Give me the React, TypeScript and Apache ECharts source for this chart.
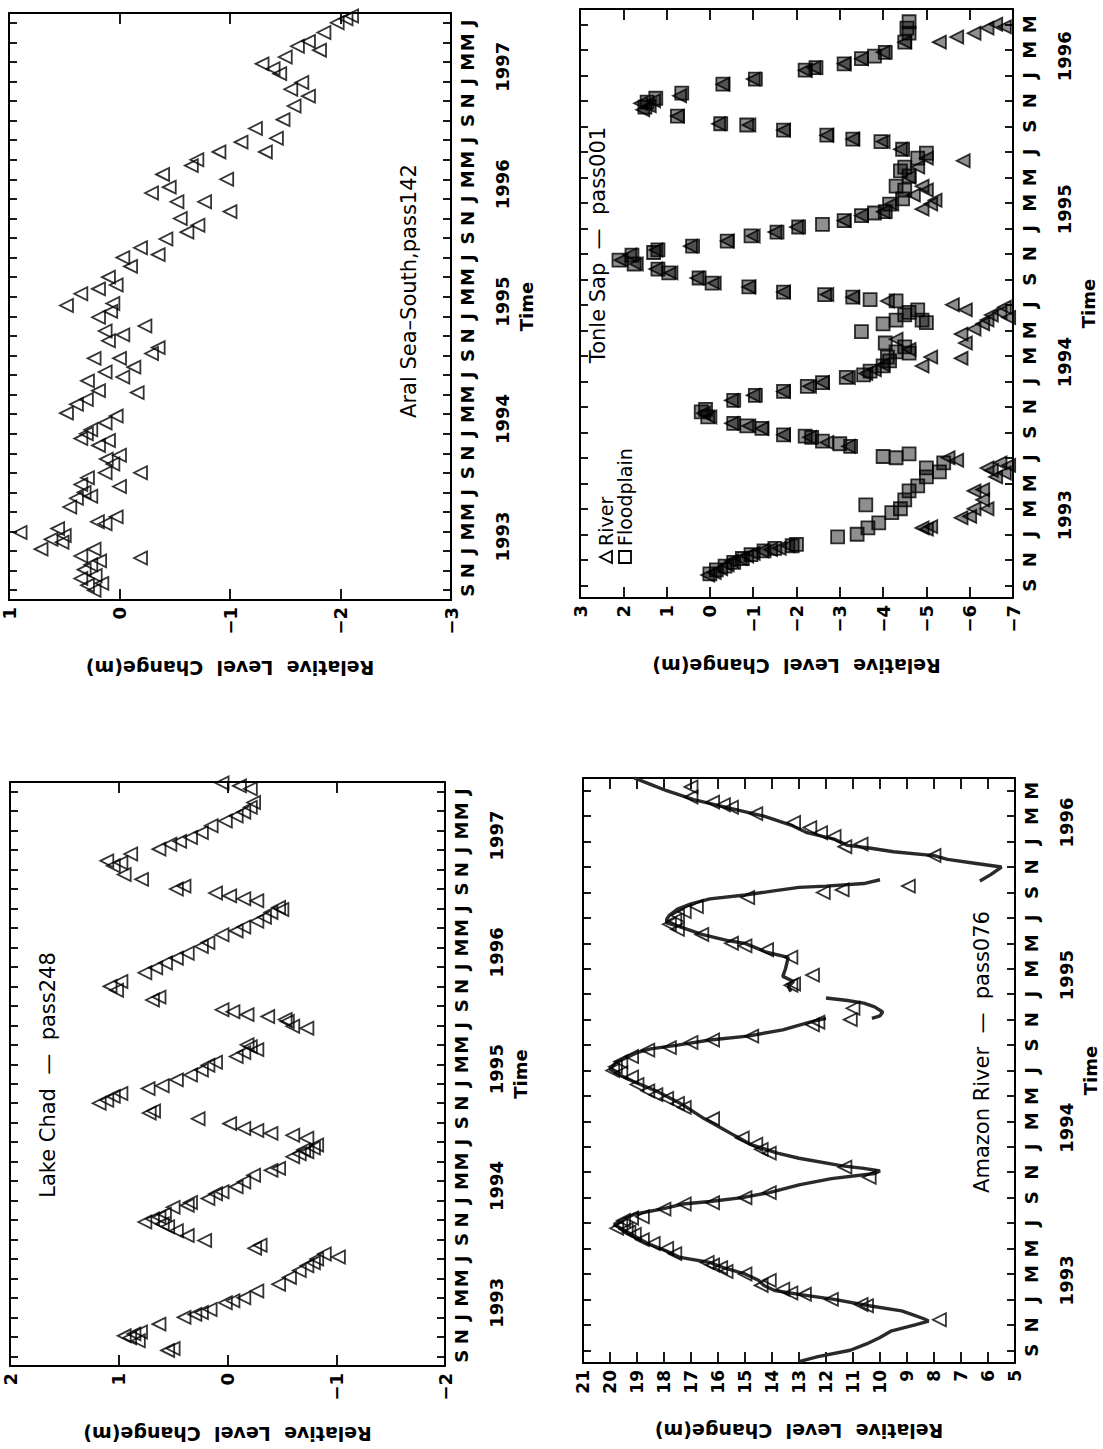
import { useEffect, useRef } from "react";
import * as echarts from "echarts";

const FONT = "DejaVu Sans";
const MONTH_LETTERS = ["J", "M", "M", "J", "S", "N"];
const BASE_YEAR = 1993;

const yearsTo1997 = [1993, 1994, 1995, 1996, 1997];
const yearsTo1996 = [1993, 1994, 1995, 1996];

// [months since Jan 1993, relative level change (m)]
const aralRiver = [
  [-4.0, 0.23], [-3.5, 0.29], [-3.3, 0.16], [-2.8, 0.35], [-2.5, 0.22], [-1.9, 0.32], [-1.4, 0.26], [-1.0, 0.18],
  [-0.7, -0.19], [-0.5, 0.35], [0.2, 0.23], [0.2, 0.71], [0.9, 0.52], [1.2, 0.62], [1.9, 0.9], [2.3, 0.56],
  [1.6, 0.5], [2.8, 0.13], [3.5, 0.03], [3.0, 0.2], [4.5, 0.45], [5.4, 0.39], [5.6, 0.26], [6.0, 0.32],
  [6.6, 0.0], [6.8, 0.35], [7.5, 0.29], [8.0, -0.19], [8.0, 0.13], [8.9, 0.06], [9.4, 0.12], [9.8, 0.0],
  [10.8, 0.19], [11.3, 0.1], [11.5, 0.35], [12.0, 0.3], [12.4, 0.26], [13.1, 0.13], [13.8, 0.03], [14.1, 0.48],
  [15.0, 0.39], [15.5, 0.3], [16.4, 0.19], [16.2, -0.16], [17.4, 0.29], [18.3, 0.13], [17.8, -0.03], [18.8, -0.13],
  [19.7, 0.23], [19.7, 0.0], [20.2, -0.29], [20.8, -0.35], [21.5, 0.1], [22.1, -0.03], [22.5, 0.13], [23.0, -0.23],
  [23.9, 0.19], [24.5, 0.08], [25.3, 0.06], [25.1, 0.48], [26.3, 0.35], [26.8, 0.19], [27.2, 0.03], [28.0, 0.1],
  [29.1, -0.1], [30.0, -0.03], [30.3, -0.35], [31.0, -0.19], [31.9, -0.42], [32.6, -0.61], [33.3, -0.71], [34.0, -0.55],
  [34.7, -1.0], [35.7, -0.52], [35.7, -0.77], [36.6, -0.29], [37.2, -0.45], [38.0, -0.97], [38.5, -0.39], [39.4, -0.65],
  [40.0, -0.7], [40.8, -0.9], [40.8, -1.32], [41.8, -1.1], [42.2, -1.42], [43.2, -1.23], [44.1, -1.48], [45.5, -1.58],
  [46.5, -1.71], [47.2, -1.55], [47.9, -1.65], [48.8, -1.45], [49.3, -1.39], [49.8, -1.29], [50.5, -1.5], [51.2, -1.81],
  [51.6, -1.61], [52.1, -1.71], [53.0, -1.85], [54.0, -1.97], [54.4, -2.05], [54.7, -2.1],
];

const tonleRiver = [
  [-3.2, 0.05], [-3.0, -0.1], [-2.7, -0.25], [-2.4, -0.4], [-2.1, -0.5], [-1.9, -0.7], [-1.7, -0.85], [-1.5, -1.0],
  [-1.3, -1.2], [-1.2, -1.4], [-1.1, -1.6], [-0.9, -1.8],
  [0.5, -4.9], [0.6, -5.1], [0.4, -5.0], [1.3, -5.8], [1.4, -6.0], [2.0, -6.1], [2.0, -6.4], [2.7, -6.3], [3.4, -6.1],
  [3.5, -6.3], [4.5, -6.6], [5.0, -6.5], [5.2, -6.4], [5.6, -6.7], [5.4, -6.9], [6.0, -5.5], [5.8, -5.7], [4.8, -6.8],
  [6.9, -3.2], [7.2, -2.7], [7.6, -2.3], [7.8, -1.7], [8.3, -1.2], [8.5, -0.9], [8.7, -0.5], [9.2, 0.0], [9.5, 0.15],
  [10.5, -0.5], [10.9, -1.0], [11.2, -1.7], [11.6, -2.3], [11.9, -2.6], [12.3, -3.2], [12.6, -3.6], [12.9, -3.8], [13.3, -4.0],
  [13.2, -4.9], [13.9, -5.1], [13.8, -5.8], [15.0, -5.9], [15.7, -5.8], [16.1, -6.1], [16.5, -6.3], [16.8, -6.4],
  [17.2, -6.5], [17.4, -6.7], [17.8, -6.8], [17.0, -6.9], [17.6, -5.9], [18.0, -5.6], [14.5, -4.6], [15.3, -4.3],
  [18.3, -4.1], [18.6, -3.3], [18.8, -2.7], [19.0, -1.7], [19.4, -0.9], [19.7, -0.1], [20.1, 0.3], [20.5, 0.9],
  [20.8, 1.25], [21.2, 1.7], [21.5, 2.05], [21.9, 1.85],
  [22.3, 1.25], [22.6, 0.45], [23.0, -0.4], [23.4, -1.0], [23.7, -1.5], [24.1, -2.0], [24.6, -3.1], [25.0, -3.5],
  [25.3, -4.0], [25.9, -4.2],
  [25.5, -4.9], [25.9, -5.1], [26.6, -4.7], [27.3, -4.9], [28.0, -4.6], [28.8, -4.8], [29.5, -5.0], [29.3, -5.85],
  [26.2, -5.2], [27.0, -5.0],
  [30.2, -4.4], [30.8, -4.0], [31.0, -3.3], [31.3, -2.7], [31.7, -1.7], [32.1, -0.9], [32.2, -0.2], [32.8, 0.75],
  [33.3, 1.55], [33.6, 1.4], [34.0, 1.3], [34.4, 0.7], [33.8, 1.6],
  [35.3, -0.3], [35.7, -1.0], [36.4, -2.2], [36.6, -2.4], [36.9, -3.1], [37.3, -3.5], [37.8, -4.0], [38.6, -4.5],
  [38.6, -5.3], [39.0, -5.7], [39.3, -6.1], [39.7, -6.4], [40.0, -6.6], [39.8, -6.8],
];

const tonleFloodplain = [
  [-3.1, 0.0], [-2.8, -0.15], [-2.5, -0.35], [-2.2, -0.55], [-1.9, -0.75], [-1.6, -0.95], [-1.3, -1.25], [-1.1, -1.5],
  [-0.9, -1.9], [-0.8, -2.0],
  [-0.2, -2.95], [0.0, -3.4], [0.5, -3.65], [0.9, -3.9], [2.3, -3.6], [2.0, -4.4], [1.7, -4.2], [2.7, -4.5], [3.4, -4.6],
  [3.8, -4.8], [4.5, -5.0], [5.2, -5.0], [4.9, -5.3], [5.6, -5.4], [6.0, -4.3], [6.3, -4.6], [6.1, -4.0],
  [6.9, -3.25], [7.1, -3.0], [7.3, -2.6], [7.6, -2.35], [7.7, -2.2], [7.8, -1.7], [8.3, -1.2], [8.5, -0.85], [8.7, -0.55],
  [9.2, 0.05], [9.6, 0.2], [9.8, 0.1],
  [10.5, -0.55], [10.9, -1.05], [11.2, -1.7], [11.6, -2.25], [11.9, -2.6], [12.3, -3.15], [12.5, -3.55], [12.8, -3.7],
  [13.2, -4.0], [13.6, -4.15],
  [13.9, -4.1], [14.3, -4.3], [14.7, -4.5], [15.0, -4.05], [14.2, -4.6], [15.9, -3.5], [16.5, -4.0], [16.8, -4.3],
  [17.2, -4.5], [17.4, -4.6], [16.8, -4.9], [16.6, -5.0], [17.6, -4.8], [18.3, -4.3],
  [18.4, -3.7], [18.6, -3.3], [18.8, -2.65], [19.0, -1.7], [19.4, -0.9], [19.7, -0.05], [20.1, 0.25], [20.5, 0.95],
  [20.8, 1.2], [21.2, 1.75], [21.5, 2.1], [21.9, 1.8], [22.1, 1.3],
  [22.3, 1.2], [22.6, 0.4], [23.0, -0.4], [23.4, -0.95], [23.7, -1.55], [24.1, -2.05], [24.3, -2.6], [24.6, -3.1],
  [25.0, -3.5], [25.2, -3.8], [25.3, -4.05], [25.9, -4.15], [26.3, -4.45],
  [27.3, -4.3], [28.1, -4.6], [28.8, -4.5], [29.5, -4.8], [29.9, -5.0], [27.0, -4.5], [28.5, -4.4],
  [30.2, -4.45], [30.8, -3.95], [31.0, -3.3], [31.3, -2.7], [31.7, -1.7], [32.1, -0.85], [32.2, -0.25], [32.8, 0.75],
  [33.5, 1.5], [34.2, 1.25], [34.6, 0.65], [33.9, 1.45],
  [35.3, -0.3], [35.7, -1.05], [36.4, -2.2], [36.6, -2.45], [36.9, -3.1], [37.3, -3.5], [37.5, -3.8], [37.8, -4.05],
  [38.6, -4.5], [39.3, -4.6], [39.7, -4.55], [40.2, -4.6],
];

const chadRiver = [
  [-3.4, 0.55], [-3.2, 0.5], [-2.4, 0.82], [-2.1, 0.9], [-1.9, 0.95], [-1.7, 0.86], [-1.5, 0.8], [-0.7, 0.63],
  [0.0, 0.4], [0.3, 0.3], [0.5, 0.24], [0.8, 0.16], [1.5, 0.02], [1.7, -0.05], [2.0, -0.15], [2.7, -0.27],
  [3.4, -0.47], [4.1, -0.57], [4.8, -0.66], [5.3, -0.73], [5.6, -0.79], [6.2, -1.02], [6.5, -0.89], [6.0, -0.82],
  [7.1, -0.25], [7.4, -0.3], [7.9, 0.21], [8.4, 0.37], [8.9, 0.47], [9.3, 0.55], [9.8, 0.76], [10.1, 0.69],
  [10.3, 0.63], [10.6, 0.58], [9.6, 0.6],
  [11.3, 0.5], [11.5, 0.37], [11.8, 0.34], [12.2, 0.18], [12.7, 0.11], [12.9, 0.05], [13.4, -0.08], [13.9, -0.15],
  [14.6, -0.24], [15.1, -0.4], [15.3, -0.47], [16.5, -0.6], [16.8, -0.66], [17.0, -0.73], [17.4, -0.79], [17.7, -0.82],
  [17.2, -0.7],
  [18.4, -0.73], [18.7, -0.6], [18.9, -0.4], [19.2, -0.27], [19.4, -0.15], [19.9, -0.02], [20.4, 0.27],
  [21.0, 0.72], [21.2, 0.68], [22.0, 1.18], [22.3, 1.11], [22.7, 1.05], [23.0, 0.98], [23.5, 0.73], [23.8, 0.6],
  [24.4, 0.47], [24.9, 0.34], [25.4, 0.24], [25.9, 0.18], [26.2, 0.11], [26.8, -0.08], [27.2, -0.15], [27.8, -0.21],
  [27.5, -0.27], [28.0, -0.18],
  [29.7, -0.73], [29.9, -0.6], [30.4, -0.55], [30.6, -0.53], [30.9, -0.37], [31.1, -0.18], [31.4, -0.05], [31.6, 0.05],
  [32.6, 0.69], [32.9, 0.63], [34.0, 1.08], [33.6, 1.02], [34.5, 0.98],
  [35.4, 0.76], [35.9, 0.66], [36.4, 0.57], [36.9, 0.47], [37.4, 0.37], [38.1, 0.24], [38.5, 0.18], [39.3, 0.05],
  [39.7, -0.08], [40.1, -0.15], [40.7, -0.27], [41.1, -0.34], [41.6, -0.4], [42.1, -0.47], [41.9, -0.5],
  [42.8, -0.27], [43.0, -0.15], [43.3, -0.02], [43.6, 0.11], [44.0, 0.47], [44.3, 0.4], [45.0, 0.79], [45.5, 0.95],
  [46.4, 1.05], [46.9, 1.11], [46.7, 0.98], [47.6, 0.89],
  [48.1, 0.63], [48.6, 0.53], [48.9, 0.44], [49.3, 0.34], [49.8, 0.24], [50.5, 0.15], [51.0, 0.02], [51.5, -0.08],
  [51.9, -0.15], [52.4, -0.21], [52.9, -0.24], [54.3, -0.21], [54.6, -0.11], [54.9, 0.05],
];

const amazonRiver = [
  [-1.6, 7.8], [-0.5, 10.5], [-0.4, 10.7], [0.0, 11.8], [0.4, 12.8], [0.5, 13.3], [0.8, 13.6], [1.1, 14.4], [1.5, 14.1],
  [2.0, 15.0], [2.2, 15.7], [2.5, 15.9], [2.7, 16.2], [2.9, 16.4], [3.6, 17.6], [4.0, 17.9], [4.4, 18.4], [4.7, 18.8],
  [5.1, 19.1], [5.3, 19.3], [5.5, 19.4], [5.6, 19.75], [5.8, 19.6], [6.2, 19.5], [6.4, 19.2], [6.5, 18.8], [7.1, 18.0],
  [7.5, 17.25], [7.6, 16.2], [8.0, 15.0], [8.4, 14.1], [9.6, 10.4], [10.4, 11.3],
  [11.5, 14.1], [11.8, 14.4], [12.2, 14.6], [12.7, 15.1], [14.2, 16.2], [15.1, 17.25], [15.4, 17.5], [15.8, 17.9],
  [16.1, 18.3], [16.4, 18.6], [16.9, 19.0], [17.5, 19.2], [17.8, 19.6], [18.0, 19.9], [18.3, 19.8], [18.7, 19.6],
  [19.1, 19.2], [19.6, 18.6], [19.8, 17.8], [20.2, 17.0], [20.4, 16.2], [20.7, 14.75], [21.6, 12.5], [21.8, 12.3],
  [22.0, 11.1], [22.9, 11.0],
  [24.7, 13.3], [24.8, 13.2], [25.5, 12.5], [26.9, 13.3], [27.5, 14.2], [27.8, 15.0], [28.0, 15.5], [28.7, 16.6],
  [29.1, 17.5], [29.5, 17.8], [29.8, 17.6], [30.2, 17.5], [30.5, 17.25], [30.9, 16.8], [31.6, 14.9], [32.0, 12.1],
  [32.2, 11.4], [32.5, 8.95],
  [34.9, 8.0], [35.6, 11.3], [35.8, 10.7], [36.4, 11.7], [36.7, 12.2], [37.1, 12.6], [37.5, 13.2], [38.2, 14.6],
  [38.7, 15.5], [38.9, 15.8], [39.1, 16.2], [39.5, 17.0], [40.3, 17.0],
];

const amazonGaugeSeg1 = [
  [-4.9, 13.0], [-4.5, 12.3], [-4.0, 11.1], [-3.5, 10.5], [-3.0, 10.0], [-2.5, 9.6], [-2.0, 8.7], [-1.7, 8.2],
  [-1.5, 8.4], [-1.2, 8.8], [-0.9, 9.2], [-0.5, 10.4], [0.0, 11.7], [0.4, 13.0], [0.7, 13.9], [1.1, 14.3], [1.5, 14.5],
  [2.0, 15.0], [2.5, 15.8], [2.9, 16.3], [3.3, 17.4], [3.8, 17.9], [4.4, 18.6], [5.1, 19.2], [5.6, 19.6], [5.9, 19.85],
  [6.2, 19.6], [6.7, 19.1], [7.1, 18.1], [7.5, 17.3], [7.7, 16.3], [8.0, 15.1], [8.4, 14.1], [9.0, 13.0], [9.5, 11.8],
  [9.9, 10.2], [10.1, 10.0], [10.3, 10.6], [10.5, 11.4], [11.1, 13.0], [11.5, 13.8], [12.2, 14.8], [12.9, 15.4],
  [13.5, 15.9], [14.2, 16.5], [15.3, 17.3], [16.4, 18.3], [17.1, 19.1], [17.6, 19.6], [18.1, 20.0], [18.6, 19.8],
  [19.0, 19.4], [19.4, 19.0], [19.7, 18.5], [20.0, 17.5], [20.4, 16.3], [20.7, 14.9], [21.2, 13.6], [21.8, 12.6],
  [22.1, 12.0],
];
const amazonGaugeSeg2 = [
  [23.7, 12.0], [23.5, 11.2], [23.3, 10.6], [23.0, 10.2], [22.6, 9.9], [22.3, 10.0], [22.1, 10.3],
];
const amazonGaugeSeg3 = [
  [24.2, 13.3], [24.6, 13.4], [25.0, 13.2], [25.4, 13.6], [26.0, 13.5], [26.9, 13.4], [27.3, 14.2], [28.0, 15.0],
  [28.2, 15.6], [28.7, 16.6], [29.3, 17.4], [29.6, 17.9], [29.9, 17.9], [30.2, 17.8], [30.7, 17.5], [31.1, 17.0],
  [31.5, 16.3], [31.8, 15.0], [32.1, 14.0], [32.4, 13.0], [32.5, 12.0], [32.7, 10.6], [33.0, 10.0],
];
const amazonGaugeSeg4 = [
  [32.9, 6.3], [33.4, 5.9], [34.0, 5.5], [34.3, 6.5], [34.6, 7.5], [34.9, 8.0], [35.2, 9.5], [35.5, 10.4], [35.7, 11.2],
  [36.2, 11.7], [36.7, 12.7], [37.3, 13.3], [38.0, 14.3], [38.5, 15.3], [39.3, 16.9], [40.0, 17.9], [40.5, 18.5],
  [41.0, 19.1],
];

const panels = [
  {
    rect: { left: 7, top: 13, width: 444, height: 587 },
    vmin: -3, vmax: 1, tmin: -5, tmax: 55, years: yearsTo1997, labelSize: 18,
    title: "Aral Sea\u2013South,pass142", titleAt: [409, 291],
  },
  {
    rect: { left: 580, top: 9, width: 433, height: 589 },
    vmin: -7, vmax: 3, tmin: -5, tmax: 41.2, years: yearsTo1996, labelSize: 18,
    title: "Tonle Sap  \u2014  pass001", titleAt: [598, 245],
  },
  {
    rect: { left: 10, top: 782, width: 435, height: 584 },
    vmin: -2, vmax: 2, tmin: -5, tmax: 55, years: yearsTo1997, labelSize: 18,
    title: "Lake Chad  \u2014  pass248", titleAt: [48, 1075],
  },
  {
    rect: { left: 583, top: 778, width: 432, height: 585 },
    vmin: 5, vmax: 21, tmin: -5, tmax: 41, years: yearsTo1996, labelSize: 17,
    title: "Amazon River  \u2014  pass076", titleAt: [982, 1052],
  },
];

const swap = (arr: number[][]) => arr.map(([t, v]) => [v, t]);

function monthTicks(tmin: number, tmax: number) {
  const out: number[] = [];
  for (let t = Math.ceil(tmin / 2) * 2; t <= tmax; t += 2) out.push(t);
  return out;
}

function buildOption() {
  const grid: any[] = [];
  const xAxis: any[] = [];
  const yAxis: any[] = [];
  const line = { show: true, onZero: false, lineStyle: { color: "#000", width: 2 } };
  const lbl = { color: "#000", fontFamily: FONT, fontWeight: "bold" };
  const tickStyle = { color: "#000", width: 1.8 };
  const minusFmt = (v: number) => String(v).replace("-", "\u2212");

  panels.forEach((p, i) => {
    grid.push({ ...p.rect, show: false });
    const ticks = monthTicks(p.tmin, p.tmax);
    const yearVals = p.years.map((y) => (y - BASE_YEAR) * 12 + 1.5);
    xAxis.push({
      gridIndex: i, type: "value", position: "bottom", min: p.vmin, max: p.vmax, interval: 1, inverse: true,
      axisLine: line,
      axisTick: { inside: true, length: 11, lineStyle: tickStyle },
      axisLabel: { ...lbl, rotate: 90, fontSize: p.labelSize, margin: 7, formatter: minusFmt },
      splitLine: { show: false },
      name: "Relative  Level  Change(m)", nameLocation: "middle", nameRotate: 180, nameGap: 58,
      nameTextStyle: { ...lbl, fontSize: 19 },
    });
    xAxis.push({
      gridIndex: i, type: "value", position: "top", min: p.vmin, max: p.vmax, interval: 1, inverse: true,
      axisLine: line,
      axisTick: { inside: true, length: 11, lineStyle: tickStyle },
      axisLabel: { show: false }, splitLine: { show: false },
    });
    const monthFmt = (val: number) => MONTH_LETTERS[(((Math.round(val) % 12) + 12) % 12) / 2];
    yAxis.push({
      gridIndex: i, type: "value", position: "right", min: p.tmin, max: p.tmax,
      axisLine: line,
      axisTick: { inside: true, length: 8, customValues: ticks, lineStyle: tickStyle },
      axisLabel: { ...lbl, customValues: ticks, rotate: 90, fontSize: 18, margin: 7, formatter: monthFmt },
      splitLine: { show: false },
    });
    yAxis.push({
      gridIndex: i, type: "value", position: "left", min: p.tmin, max: p.tmax,
      axisLine: line,
      axisTick: { inside: true, length: 8, customValues: ticks, lineStyle: tickStyle },
      axisLabel: { show: false }, splitLine: { show: false },
    });
    yAxis.push({
      gridIndex: i, type: "value", position: "right", offset: 42, min: p.tmin, max: p.tmax,
      axisLine: { show: false, onZero: false }, axisTick: { show: false },
      axisLabel: {
        ...lbl, customValues: yearVals, rotate: 90, fontSize: 18, margin: 0,
        formatter: (val: number) => String(BASE_YEAR + Math.floor(val / 12)),
      },
      splitLine: { show: false },
      name: "Time", nameLocation: "middle", nameRotate: 90, nameGap: 24,
      nameTextStyle: { ...lbl, fontSize: 18 },
    });
  });

  const triStyle = { color: "rgba(0,0,0,0)", borderColor: "#000", borderWidth: 1.8 };
  const denseStyle = { color: "rgba(0,0,0,0.55)", borderColor: "#000", borderWidth: 1.8 };
  const scatter = (name: string, data: number[][], pi: number, symbol: string, style: any, rot = 90) => ({
    name, type: "scatter", xAxisIndex: pi * 2, yAxisIndex: pi * 3, data: swap(data),
    symbol, symbolSize: 13, symbolRotate: rot, itemStyle: style, z: 3,
  });
  const gauge = (data: number[][]) => ({
    type: "line", xAxisIndex: 6, yAxisIndex: 9, data: swap(data), showSymbol: false, symbol: "none",
    lineStyle: { color: "#2a2a2a", width: 3.4 }, z: 2, clip: true,
  });

  const series = [
    scatter("Aral", aralRiver, 0, "triangle", triStyle),
    scatter("River", tonleRiver, 1, "triangle", denseStyle),
    scatter("Floodplain", tonleFloodplain, 1, "rect", denseStyle, 0),
    scatter("Lake Chad", chadRiver, 2, "triangle", triStyle),
    gauge(amazonGaugeSeg1), gauge(amazonGaugeSeg2), gauge(amazonGaugeSeg3), gauge(amazonGaugeSeg4),
    scatter("Amazon", amazonRiver, 3, "triangle", triStyle),
  ];

  const textEl = (text: string, x: number, y: number, align: string, size = 20) => ({
    type: "text", x, y, rotation: Math.PI / 2, z: 10,
    style: {
      text, fill: "#000", fontSize: size, fontFamily: FONT,
      align, textAlign: align, verticalAlign: "middle", textVerticalAlign: "middle",
    },
  });

  const graphic: any[] = panels.map((p) => textEl(p.title, p.titleAt[0], p.titleAt[1], "center", 21));
  // Tonle Sap legend
  graphic.push({
    type: "polygon", z: 10,
    shape: { points: [[600, 557], [612, 551], [612, 563]] },
    style: { fill: "none", stroke: "#000", lineWidth: 1.8 },
  });
  graphic.push({
    type: "rect", z: 10, shape: { x: 619, y: 551, width: 12, height: 12 },
    style: { fill: "none", stroke: "#000", lineWidth: 1.8 },
  });
  graphic.push(textEl("River", 606, 546, "left", 19));
  graphic.push(textEl("Floodplain", 625, 546, "left", 19));

  return { animation: false, backgroundColor: "#fff", grid, xAxis, yAxis, series, graphic };
}

export default function App() {
  const ref = useRef<HTMLDivElement>(null);
  useEffect(() => {
    if (!ref.current) return;
    const chart = echarts.init(ref.current, undefined, { renderer: "svg" });
    chart.setOption(buildOption() as any);
    return () => chart.dispose();
  }, []);
  return (
    <div
      ref={ref}
      style={{ position: "absolute", left: 0, top: 0, width: 1103, height: 1449, background: "#fff" }}
    />
  );
}
